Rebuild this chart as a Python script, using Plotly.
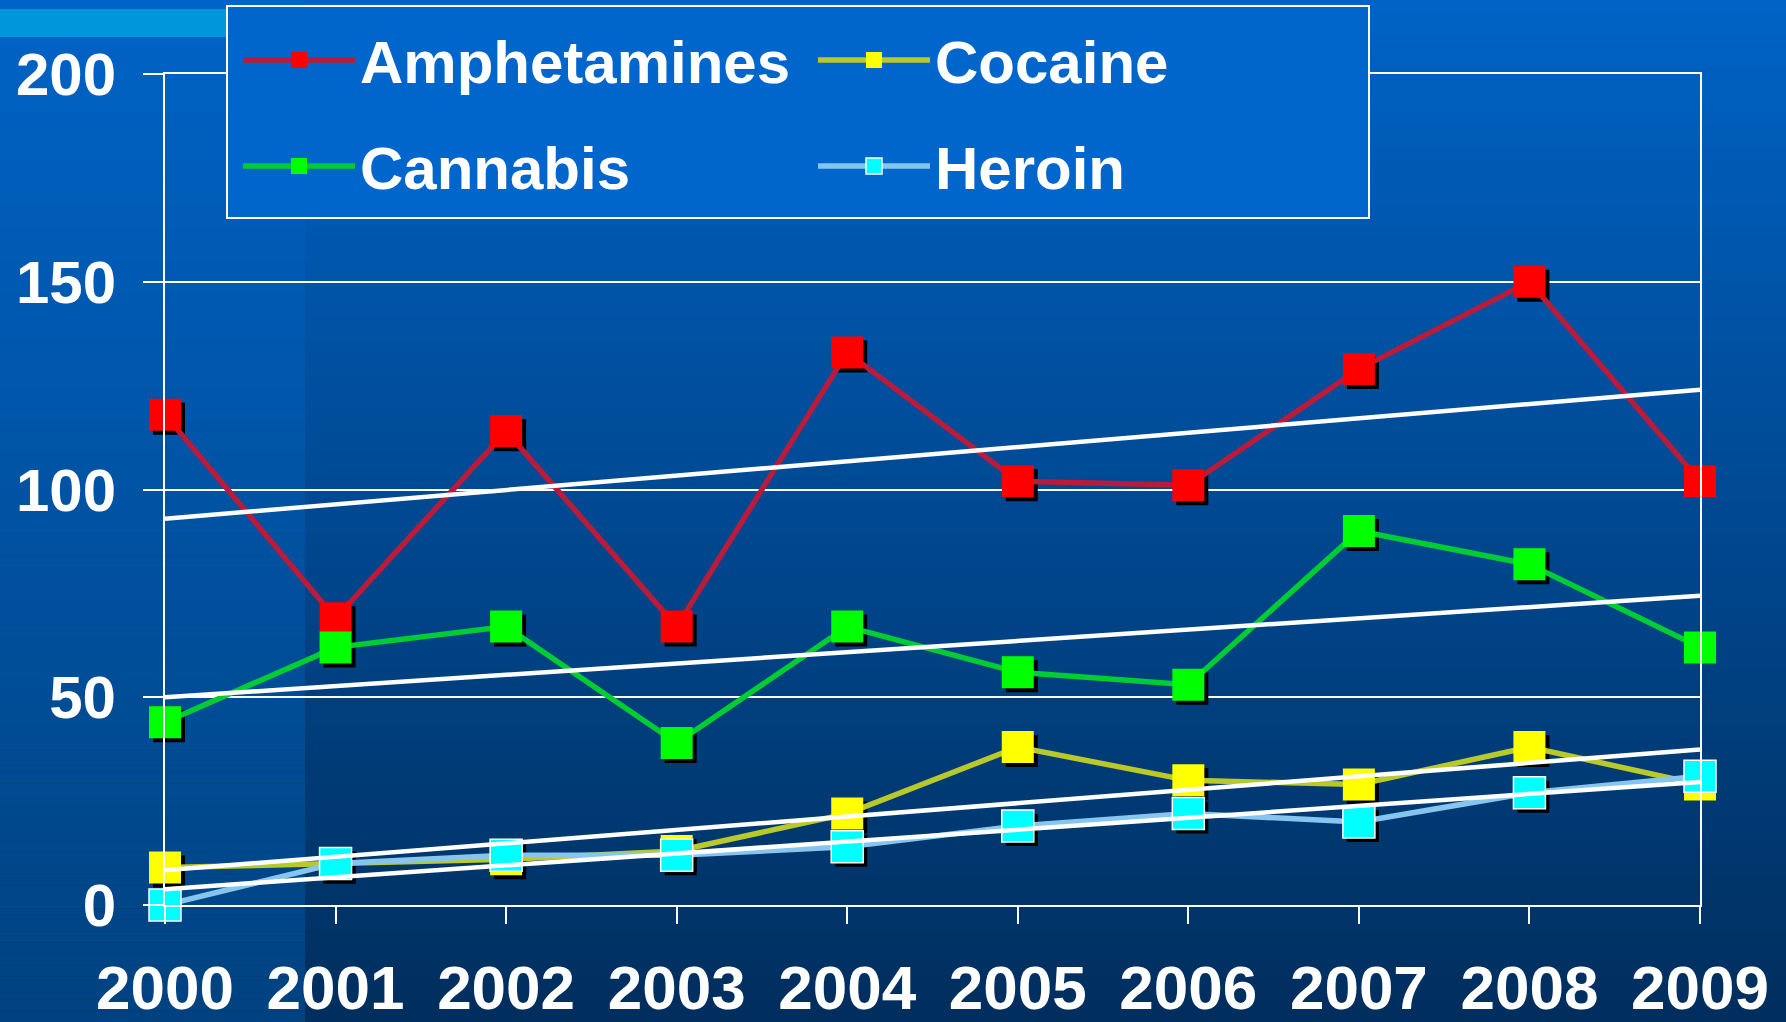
import numpy as np
import plotly.graph_objects as go

# ---- data ----
years = [2000, 2001, 2002, 2003, 2004, 2005, 2006, 2007, 2008, 2009]
amphetamines = [118, 69, 114, 67, 133, 102, 101, 129, 150, 102]
cannabis = [44, 62, 67, 39, 67, 56, 53, 90, 82, 62]
cocaine = [9, 10, 11, 13, 22, 38, 30, 29, 38, 29]
heroin = [0, 10, 12, 12, 14, 19, 22, 20, 27, 31]
y_ticks = [0, 50, 100, 150, 200]
x_ticks = years

# ---- layout geometry ----
W, H = 1786, 1022
ML, MR, MT, MB = 165, 86, 74, 117
PW, PH = W - ML - MR, H - MT - MB
FONT = "Liberation Sans"


def px_x(v):
    return (v - ML) / PW


def px_y(v):
    return 1 - (v - MT) / PH


series = [
    ("Amphetamines", amphetamines, "#b81c3a", "#ff0000", None, "legend"),
    ("Cannabis", cannabis, "#00cc33", "#00ff00", None, "legend2"),
    ("Cocaine", cocaine, "#b9c92a", "#ffff00", None, "legend"),
    ("Heroin", heroin, "#86c6ee", "#00ffff", "white", "legend2"),
]

fig = go.Figure()

# marker shadows (on shifted base axes)
for name, vals, lc, mc, ml, lg in series:
    fig.add_trace(go.Scatter(
        x=years, y=vals, mode="markers", xaxis="x", yaxis="y",
        marker=dict(symbol="square", size=32, color="black"),
        showlegend=False, hoverinfo="skip", cliponaxis=False))

# data series
for name, vals, lc, mc, ml, lg in series:
    fig.add_trace(go.Scatter(
        x=years, y=vals, mode="lines+markers", name=name,
        xaxis="x2", yaxis="y2", legend=lg,
        line=dict(color=lc, width=5.5),
        marker=dict(symbol="square", size=32, color=mc,
                    line=dict(color=ml or mc, width=1.5 if ml else 0)),
        cliponaxis=False))

# linear trend lines
for name, vals, lc, mc, ml, lg in series:
    coef = np.polyfit(years, vals, 1)
    fig.add_trace(go.Scatter(
        x=years, y=np.polyval(coef, years), mode="lines",
        xaxis="x2", yaxis="y2", line=dict(color="white", width=4.5),
        showlegend=False, hoverinfo="skip", cliponaxis=False))

# ---- background gradient ----
shapes = []
N = 90
top = np.array([0, 99, 198])
bot = np.array([0, 46, 93])
left_bot = np.array([0, 66, 128])
for i in range(N):
    t = (i + 0.5) / N
    c = top + (bot - top) * t
    y0 = px_y(i * H / N)
    y1 = px_y((i + 1) * H / N + 1)
    shapes.append(dict(type="rect", xref="paper", yref="paper", layer="below",
                       x0=px_x(0), x1=px_x(W), y0=y1, y1=y0, line_width=0,
                       fillcolor="rgb(%d,%d,%d)" % tuple(c.round())))
    c2 = top + (left_bot - top) * t
    shapes.append(dict(type="rect", xref="paper", yref="paper", layer="below",
                       x0=px_x(0), x1=px_x(305), y0=y1, y1=y0, line_width=0,
                       fillcolor="rgb(%d,%d,%d)" % tuple(c2.round())))

# light blue bar at top-left
shapes.append(dict(type="rect", xref="paper", yref="paper", layer="below",
                   x0=px_x(0), x1=px_x(228), y0=px_y(37), y1=px_y(9),
                   line_width=0, fillcolor="#0096dc"))
# legend box
shapes.append(dict(type="rect", xref="paper", yref="paper", layer="above",
                   x0=px_x(227), x1=px_x(1369), y0=px_y(218), y1=px_y(6),
                   line=dict(color="white", width=2), fillcolor="#0066cc"))

sx = 4 / (PW / 9)
sy = 4 / (PH / 200)

x_font = dict(family=FONT, size=62, color="white", weight="bold")
y_font = dict(family=FONT, size=60, color="white", weight="bold")
leg_font = dict(family=FONT, size=60, color="white", weight="bold")

fig.update_layout(
    width=W, height=H,
    margin=dict(l=ML, r=MR, t=MT, b=MB, autoexpand=False),
    paper_bgcolor="#003060", plot_bgcolor="rgba(0,0,0,0)",
    shapes=shapes,
    showlegend=True,
    xaxis=dict(range=[2000 - sx, 2009 - sx], visible=False, fixedrange=True),
    yaxis=dict(range=[0 + sy, 200 + sy], visible=False, fixedrange=True),
    xaxis2=dict(range=[2000, 2009], overlaying="x", side="bottom",
                tickvals=x_ticks, ticktext=[str(v) for v in x_ticks],
                ticks="outside", ticklen=17, tickwidth=2, tickcolor="white",
                showgrid=False, zeroline=False, automargin=False,
                showline=True, mirror=True, linecolor="white", linewidth=2,
                tickfont=x_font, ticklabelstandoff=11),
    yaxis2=dict(range=[0, 200], overlaying="y", side="left",
                tickvals=y_ticks, ticks="outside", ticklen=20, tickwidth=2,
                tickcolor="white", showgrid=True, gridcolor="white", gridwidth=2,
                zeroline=False, showline=True, mirror=True, linecolor="white",
                automargin=False,
                linewidth=2, tickfont=y_font, ticklabelstandoff=15),
    legend=dict(orientation="h", xref="container", yref="container",
                x=238 / W, y=1 - 60 / H, xanchor="left", yanchor="middle",
                bgcolor="rgba(0,0,0,0)", borderwidth=0, font=leg_font,
                entrywidth=448, itemwidth=112),
    legend2=dict(orientation="h", xref="container", yref="container",
                 x=238 / W, y=1 - 166 / H, xanchor="left", yanchor="middle",
                 bgcolor="rgba(0,0,0,0)", borderwidth=0, font=leg_font,
                 entrywidth=448, itemwidth=112),
)

fig.write_html("out.html",
               config={"displayModeBar": False},
               post_script="document.body.style.margin='0';"
                           "document.body.style.background='#003060';")
